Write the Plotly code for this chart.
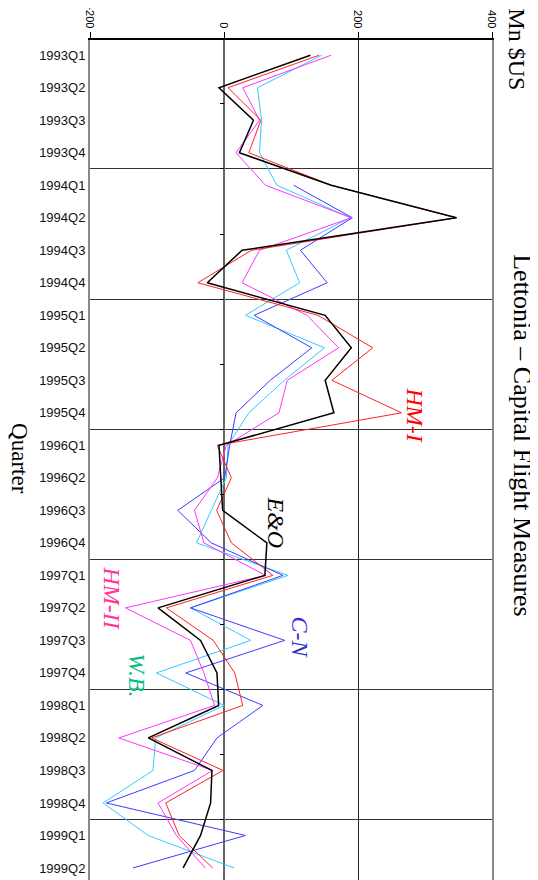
import plotly.graph_objects as go

quarters = ["1993Q1", "1993Q2", "1993Q3", "1993Q4",
            "1994Q1", "1994Q2", "1994Q3", "1994Q4",
            "1995Q1", "1995Q2", "1995Q3", "1995Q4",
            "1996Q1", "1996Q2", "1996Q3", "1996Q4",
            "1997Q1", "1997Q2", "1997Q3", "1997Q4",
            "1998Q1", "1998Q2", "1998Q3", "1998Q4",
            "1999Q1", "1999Q2"]

eo = [129, -7.5, 44, 23, 160, 347, 27, -25, 151, 190, 151, 164, -7.5, -5, -2, 64,
      61, -98.5, -35, -10.5, -8, -113, -18, -20, -35, -61]
hm1 = [142, 6, 55, 37, 160, 347, 41, -39, 140, 222, 161, 265, -10, 11, -11, 11,
       73, -86, -16, 16, 28, -108, -1.5, -87, -67, -17]
hm2 = [160, 28, 53, 18, 62, 190, 53, 27, 124, 171, 94.5, 82, 3.5, -10, -44, -30,
       62, -147, -50, -30, -14, -157, -17, -98.5, -71, -28]
cn = [None, None, None, None, 104, 191.5, 114, 154, 45, 131, 69, 18, 8.5, 1, -69, -19,
      88, -50, 90.5, -57, 58, -10.5, -44, -175.6, 32, -136]
wb = [146, 50, 56, 53, 79, 188.6, 93, 113, 32, 150, 90, 37, 6, 3.5, -19, -41,
      95.5, -50, 40, -101, 0, -102, -106, -180.6, -113, 15]

x_ticks = [-200, 0, 200, 400]
year_breaks = [3.5, 7.5, 11.5, 15.5, 19.5, 23.5]
half_year_marks = [1.5, 3.5, 5.5, 7.5, 9.5, 11.5, 13.5, 15.5, 17.5, 19.5, 21.5, 23.5]

series = [
    ("W.B.", wb, "#33ccff", 1),
    ("C-N", cn, "#3b3bff", 1),
    ("HM-II", hm2, "#ff33ff", 1),
    ("HM-I", hm1, "#ff2222", 1),
    ("E&O", eo, "#000000", 1.5),
]

fig = go.Figure()
for name, vals, color, w in series:
    fig.add_trace(go.Scatter(x=vals, y=quarters, mode="lines", name=name,
                             line=dict(color=color, width=w), showlegend=False))

# helper traces so overlay axes are rendered
fig.add_trace(go.Scatter(x=[None], y=[None], yaxis="y2", showlegend=False))
fig.add_trace(go.Scatter(x=[None], y=[None], yaxis="y3", showlegend=False))

yrange = [25.37, -0.4675]
serif = "Liberation Serif, Times New Roman, serif"
sans = "Liberation Sans, Arial, sans-serif"

# page has an 8px body margin: the figure is sized/offset to compensate
fig.update_layout(
    width=530, height=872,
    margin=dict(l=82, r=46, t=32, b=0, autoexpand=False),
    paper_bgcolor="white", plot_bgcolor="white",
    xaxis=dict(side="top", range=[-200, 400], tickvals=x_ticks, tickangle=90,
               ticks="outside", ticklen=6, tickcolor="#000", automargin=False,
               tickfont=dict(family=sans, size=11, color="#000"),
               showgrid=True, gridcolor="#222", gridwidth=1,
               zeroline=True, zerolinecolor="#666", zerolinewidth=1.5,
               showline=True, linecolor="#000", linewidth=1.5, mirror=False),
    yaxis=dict(type="category", range=yrange, showgrid=False, zeroline=False,
               ticks="", automargin=False, tickfont=dict(family=sans, size=13, color="#111"),
               showline=True, linecolor="#888", linewidth=2, mirror=True),
    yaxis2=dict(overlaying="y", range=yrange, tickvals=year_breaks, showticklabels=False,
                ticks="", showgrid=True, gridcolor="#333", gridwidth=1, zeroline=False,
                showline=False, side="left", automargin=False),
    yaxis3=dict(overlaying="y", range=yrange, anchor="free", position=1/3,
                tickvals=half_year_marks, showticklabels=False, ticks="outside",
                ticklen=4, tickcolor="#000", showgrid=False, zeroline=False,
                showline=False, side="left", automargin=False),
)

# paper coords: plot area spans 402 px wide, 840 px high
ann = [
    dict(text="Lettonia – Capital Flight Measures", x=1.074, y=0.5286, xref="paper", yref="paper",
         font=dict(family=serif, size=26, color="#000")),
    dict(text="Mn $US", x=1.062, y=0.989, xref="paper", yref="paper",
         font=dict(family=serif, size=24, color="#000")),
    dict(text="Quarter", x=-0.176, y=0.502, xref="paper", yref="paper",
         font=dict(family=serif, size=23, color="#000")),
    dict(text="<i>HM-I</i>", x=284.6, y=11.07, xref="x", yref="y",
         font=dict(family=serif, size=24, color="#ff0000")),
    dict(text="<i>E&amp;O</i>", x=77, y=14.36, xref="x", yref="y",
         font=dict(family=serif, size=24, color="#000000")),
    dict(text="<i>HM-II</i>", x=-167.6, y=16.7, xref="x", yref="y",
         font=dict(family=serif, size=24, color="#ff3399")),
    dict(text="<i>C-N</i>", x=113, y=17.9, xref="x", yref="y",
         font=dict(family=serif, size=24, color="#3333cc")),
    dict(text="<i>W.B.</i>", x=-130.3, y=19.06, xref="x", yref="y",
         font=dict(family=serif, size=24, color="#00c080")),
]
for a in ann:
    fig.add_annotation(showarrow=False, textangle=90, xanchor="center", yanchor="middle", **a)

fig.write_html("out.html")
